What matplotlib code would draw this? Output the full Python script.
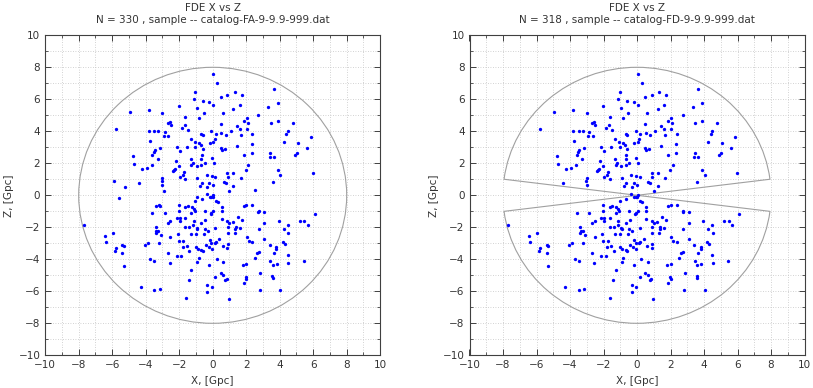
import matplotlib
matplotlib.use("Agg")
import matplotlib.pyplot as plt
from matplotlib.patches import Circle, Wedge
from matplotlib.ticker import MultipleLocator

# ---------------- data (Gpc) ----------------
# galaxies present in both samples (FA and FD)
x_both = [
    -1.04, -1.12, -0.60, -0.20, -2.04, -0.96, -4.96, -3.80, -3.00, -0.52, -1.64, -0.84, -2.68, -2.56, -2.48, -1.68,
    -5.80, -1.84, -1.48, -3.80, -3.48, -3.24, -2.84, -2.92, -2.64, -0.68, -0.60, -1.32, -3.76, -1.08, -0.84, -0.72,
    -0.16, -3.16, -2.16, -1.56, -1.04, -0.60, -3.44, -3.52, -1.96, -3.60, -4.76, -0.64, -3.28, -1.32, -0.68, -2.20,
    -0.48, -1.20, -1.28, -2.04, -0.96, -0.68, -4.72, -3.64, -3.92, -4.24, -2.32, -2.24, -2.36, -1.72, -1.80, -0.36,
    -3.00, -1.96, -1.64, -0.92, -4.40, -3.04, -3.00, -0.64, -0.20, -0.76, -0.32, -0.36,
    0.04, 0.28, 1.32, 1.72, 0.88, 0.48, 3.64, 0.04, 1.60, 1.24, 3.32, 3.88, 0.60, 2.72, 2.04, 1.84,
    2.08, 1.44, 3.48, 3.88, 4.80, 0.48, 2.04, 1.64, 1.08, 2.36, 1.68, 0.20, 0.52, 0.80, -0.08, 4.48,
    4.40, 5.88, 4.24, 5.08, 0.12, 0.04, 0.48, 0.56, 0.72, 1.44, 2.32, 5.60, 3.44, 3.40, 3.64, 5.04,
    4.92, 2.32, 1.84, -0.04, 0.08, 2.12, 1.96, 3.88, 4.04, 5.96, 0.88, 1.24, 0.92, -0.04, 0.16, 1.68,
    0.68, 0.80, 3.60, 0.00, 1.24, 1.00,
    -2.04, -1.64, -1.48, -1.24, -1.12, -1.04, -0.64, -2.84, -3.60, -2.04, -1.28, -1.08, -0.48, -2.16, -1.96, -1.64,
    -2.52, -2.68, -1.96, -1.12, -0.44, -0.68, -7.68, -3.40, -3.36, -3.24, -3.40, -1.64, -1.40, -1.16, -0.96, -0.92,
    -0.48, -0.28, -5.96, -6.44, -3.08, -2.52, -2.08, -1.32, -1.00, -0.52, -6.36, -5.40, -5.32, -5.80, -5.84, -5.40,
    -4.04, -3.88, -3.20, -2.04, -1.76, -1.80, -1.56, -1.40, -1.00, -0.88, -0.68, -0.60, -0.40, -0.24, -2.68, -2.12,
    -1.88, -0.84, -0.92, -3.72, -3.48, -2.56, -5.32, -0.20, -1.28, -1.44, -4.28, -3.48, -3.16, -0.32, -0.32, -1.60,
    0.04, -0.08, 0.00, -0.16, 0.20, 0.32, 1.88, 2.00, 2.36, 0.56, -0.08, 0.04, -0.12, 0.56, 2.76, 2.72,
    3.08, 6.08, 1.52, 0.56, 1.72, 0.88, 1.00, 1.20, 3.96, 5.20, 5.48, 5.68, 0.92, 1.40, 1.36, 1.64,
    2.76, 3.08, 4.24, 4.48, 4.52, 0.16, 0.92, 1.32, 2.04, 2.16, 2.36, 3.08, 0.40, -0.16, -0.08, 0.12,
    0.20, 0.92, 0.88, 0.60, -0.04, 3.40, 3.80, 3.80, 4.20, 4.32, 3.64, 2.76, 2.64, 2.52, 0.24, 0.64,
    3.44, 3.60, 3.84, 4.48, 4.52, 5.44, 1.80, 2.00, 2.84, 0.48, 0.64, 0.84, 0.76, 0.16, 1.96, 2.00,
    3.56, 3.60, 1.88, -0.04, 2.80, 4.04, 0.96,
]
z_both = [
    6.44, 6.04, 5.92, 5.83, 5.58, 5.46, 5.21, 5.35, 5.17, 5.17, 4.90, 4.83, 4.50, 4.58, 4.42, 4.38,
    4.13, 4.19, 4.08, 4.00, 4.00, 4.00, 3.96, 3.71, 3.73, 3.83, 3.79, 3.54, 3.42, 3.33, 3.25, 3.13,
    3.29, 2.96, 3.04, 3.04, 3.00, 2.88, 2.83, 2.71, 2.75, 2.50, 2.46, 2.54, 2.29, 2.25, 2.25, 2.13,
    2.04, 2.00, 1.92, 1.83, 1.83, 1.92, 1.96, 1.92, 1.71, 1.63, 1.58, 1.63, 1.50, 1.46, 1.29, 1.25,
    1.08, 1.13, 1.04, 1.08, 0.79, 0.88, 0.67, 0.75, 0.75, 0.58, 0.50, 0.08,
    7.58, 7.04, 6.46, 6.29, 6.25, 6.13, 6.63, 5.63, 5.67, 5.38, 5.54, 5.79, 5.17, 5.00, 4.83, 4.67,
    4.50, 4.33, 4.50, 4.63, 4.50, 4.46, 4.17, 4.13, 4.04, 3.83, 3.75, 3.83, 3.92, 3.77, 4.00, 4.04,
    3.83, 3.63, 3.33, 3.29, 3.50, 3.33, 2.96, 2.83, 2.88, 3.08, 3.21, 2.96, 2.67, 2.42, 2.42, 2.63,
    2.50, 2.63, 2.50, 2.33, 2.00, 1.92, 1.58, 1.58, 1.29, 1.42, 1.42, 1.42, 1.17, 1.21, 1.13, 1.08,
    0.83, 0.79, 0.83, 0.67, 0.58, 0.25,
    -0.63, -0.75, -0.67, -0.75, -0.88, -0.33, -0.25, -1.08, -1.08, -1.00, -1.08, -0.96, -1.00, -1.42, -1.42, -1.42,
    -1.58, -1.75, -1.63, -1.58, -1.54, -1.71, -1.88, -2.00, -2.21, -2.21, -2.33, -2.00, -1.96, -1.88, -2.04, -2.13,
    -2.13, -2.21, -2.33, -2.54, -2.50, -2.63, -2.42, -2.42, -2.42, -2.42, -2.92, -3.13, -3.17, -3.29, -3.46, -3.63,
    -3.13, -2.96, -2.96, -2.88, -2.83, -3.21, -3.17, -3.46, -3.25, -3.33, -3.42, -3.50, -3.13, -3.25, -3.58, -3.79,
    -3.79, -3.92, -4.17, -3.96, -4.08, -4.25, -4.42, -4.38, -4.67, -5.29, -5.71, -5.92, -5.88, -5.58, -6.04, -6.42,
    0.00, -0.08, -0.13, -0.08, -0.33, -0.42, -0.67, -0.63, -0.58, -0.75, -1.13, -1.00, -1.17, -1.00, -0.96, -1.04,
    -1.04, -1.17, -1.33, -1.46, -1.54, -1.63, -1.71, -1.67, -1.58, -1.58, -1.58, -1.88, -1.96, -1.96, -2.08, -2.04,
    -2.08, -1.71, -2.08, -1.88, -2.33, -2.04, -2.38, -2.38, -2.63, -2.83, -2.92, -2.71, -2.71, -2.79, -2.96, -2.96,
    -2.92, -3.04, -3.29, -3.17, -3.33, -3.13, -3.25, -3.38, -2.92, -3.04, -3.63, -3.54, -3.63, -3.92, -4.00, -4.17,
    -4.13, -4.33, -4.29, -3.75, -4.25, -4.13, -4.33, -4.29, -4.83, -4.83, -5.00, -5.21, -5.29, -5.13, -5.08, -5.21,
    -5.04, -5.17, -5.46, -5.75, -5.92, -5.92, -6.46,
]
# galaxies only in FA (removed from FD by the avoidance zone)
x_fa_only = [-5.92, -5.24, -2.88, 2.52, -5.60, -0.92, -3.40, -3.20, -3.16]
z_fa_only = [0.88, 0.50, 0.29, 0.33, -0.17, -0.08, -0.67, -0.58, -0.67]

title_main = "FDE X vs Z"
subtitles = ["N = 330 , sample -- catalog-FA-9-9.9-999.dat",
             "N = 318 , sample -- catalog-FD-9-9.9-999.dat"]
x_label = "X, [Gpc]"
y_label = "Z, [Gpc]"
sphere_radius = 8.0
zone_half_angle = 7.2  # degrees

# ---------------- figure ----------------
fig = plt.figure(figsize=(8.13, 3.88), dpi=100)
fs = 7.5
txt_col = "#333333"
pos_left = [45.2 / 813, 1 - 355.3 / 388, 335 / 813, 320 / 388]
pos_right = [469.5 / 813, 1 - 355.3 / 388, 335 / 813, 320 / 388]

x_fa = x_both + x_fa_only
z_fa = z_both + z_fa_only

for i, pos in enumerate([pos_left, pos_right]):
    ax = fig.add_axes(pos)
    ax.set_xlim(-10, 10)
    ax.set_ylim(-10, 10)
    ax.xaxis.set_major_locator(MultipleLocator(2))
    ax.yaxis.set_major_locator(MultipleLocator(2))
    ax.xaxis.set_minor_locator(MultipleLocator(1))
    ax.yaxis.set_minor_locator(MultipleLocator(1))
    ax.grid(True, which="both", linestyle=(0, (1, 2)), color="#c4c4c4", linewidth=0.6)
    ax.set_axisbelow(True)
    ax.tick_params(which="both", direction="in", top=True, right=True,
                   labelsize=fs, labelcolor=txt_col, color="#404040")
    ax.tick_params(which="major", length=4, width=0.7)
    ax.tick_params(which="minor", length=2, width=0.6)
    for s in ax.spines.values():
        s.set_color("#404040")
        s.set_linewidth(0.8)

    if i == 0:
        ax.add_patch(Circle((0, 0), sphere_radius, fill=False, ec="#a0a0a0", lw=0.8))
        xs, zs = x_fa, z_fa
    else:
        ax.add_patch(Wedge((0, 0), sphere_radius, zone_half_angle, 180 - zone_half_angle,
                           fill=False, ec="#a0a0a0", lw=0.8))
        ax.add_patch(Wedge((0, 0), sphere_radius, 180 + zone_half_angle, 360 - zone_half_angle,
                           fill=False, ec="#a0a0a0", lw=0.8))
        xs, zs = x_both, z_both

    ax.plot(xs, zs, "o", color="#0000ff", ms=2.4, mew=0, zorder=3)

    ax.set_title(title_main + "\n" + subtitles[i], fontsize=fs, color=txt_col,
                 pad=9, linespacing=1.25)
    ax.set_xlabel(x_label, fontsize=fs, color=txt_col, labelpad=4)
    ax.set_ylabel(y_label, fontsize=fs, color=txt_col, labelpad=3)

fig.savefig("out.png", dpi=100)
